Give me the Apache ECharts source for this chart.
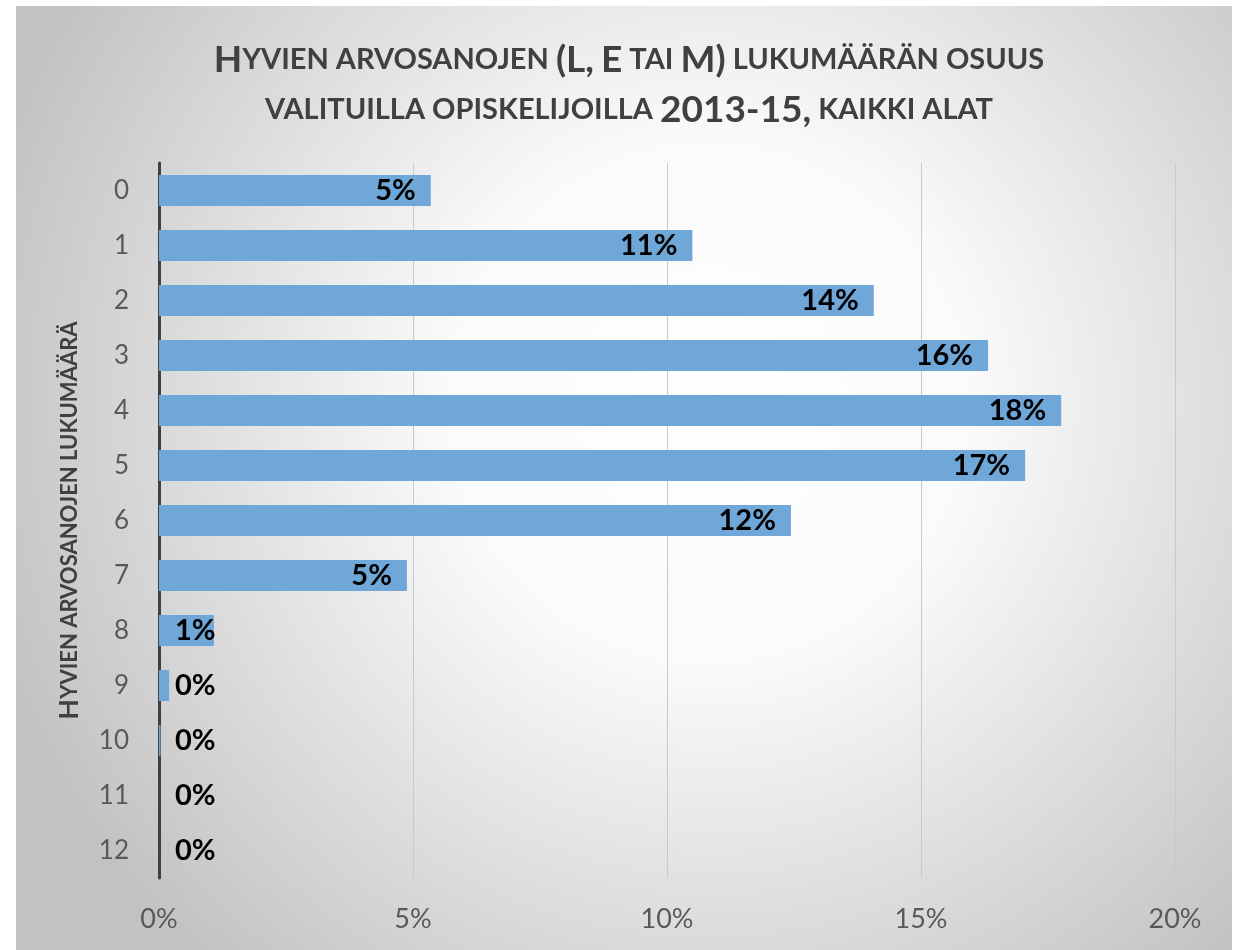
<!DOCTYPE html>
<html>
<head>
<meta charset="utf-8">
<script src="https://cdn.jsdelivr.net/npm/echarts@6/dist/echarts.min.js"></script>
<style>
  html, body { margin: 0; padding: 0; background: #fff; }
  #chart { width: 1243px; height: 950px; }
</style>
</head>
<body>
<div id="chart"></div>
<script>
// data
const categories = ['0', '1', '2', '3', '4', '5', '6', '7', '8', '9', '10', '11', '12'];
const shares = [5.35, 10.5, 14.07, 16.32, 17.76, 17.05, 12.44, 4.88, 1.08, 0.2, 0.03, 0, 0];
const xTicks = [0, 5, 10, 15, 20];

const titleLine1 = 'Hyvien arvosanojen (L, E tai M) lukumäärän osuus';
const titleLine2 = 'valituilla opiskelijoilla 2013-15, kaikki alat';
const yName = 'Hyvien arvosanojen lukumäärä';

// small caps: lowercase letters go to the small style, everything else big
function smallCaps(str) {
  let out = '';
  let cur = null;
  let buf = '';
  for (const ch of str) {
    const isLower = ch !== ch.toUpperCase() || ch === ' ';
    const st = isLower ? 's' : 'b';
    if (st !== cur && buf) {
      out += '{' + cur + '|' + buf + '}';
      buf = '';
    }
    cur = st;
    buf += ch.toUpperCase();
  }
  if (buf) out += '{' + cur + '|' + buf + '}';
  return out;
}

const myChart = echarts.init(document.getElementById('chart'));

const option = {
  animation: false,
  graphic: [{
    type: 'rect',
    z: -10,
    silent: true,
    shape: { x: 16, y: 6, width: 1216, height: 944 },
    style: {
      fill: new echarts.graphic.RadialGradient(0.57, 0.42, 0.8, [
        { offset: 0, color: '#ffffff' },
        { offset: 0.35, color: '#fafafa' },
        { offset: 1, color: '#c2c2c2' }
      ])
    }
  }],
  title: {
    text: smallCaps(titleLine1) + '\n' + smallCaps(titleLine2),
    left: 624,
    top: 30,
    textAlign: 'center',
    textStyle: {
      color: '#404040',
      fontFamily: 'Lato',
      fontWeight: 'bold',
      lineHeight: 50,
      rich: {
        b: { fontSize: 37, fontWeight: 'bold', fontFamily: 'Lato', color: '#404040', lineHeight: 50 },
        s: { fontSize: 29, fontWeight: 'bold', fontFamily: 'Lato', color: '#404040', lineHeight: 50 }
      }
    }
  },
  grid: {
    left: 159,
    right: 68,
    top: 163,
    bottom: 72,
    containLabel: false
  },
  xAxis: {
    type: 'value',
    min: 0,
    max: 20,
    interval: 5,
    axisLine: { show: false },
    axisTick: { show: false },
    splitLine: { lineStyle: { color: '#c9c9c9', width: 1 } },
    axisLabel: {
      color: '#595959',
      fontFamily: 'Lato',
      fontSize: 27,
      margin: 28,
      formatter: v => xTicks.includes(v) ? v + '%' : ''
    }
  },
  yAxis: {
    type: 'category',
    data: categories,
    inverse: true,
    axisLine: { lineStyle: { color: '#404040', width: 3 } },
    axisTick: { show: false },
    axisLabel: {
      color: '#595959',
      fontFamily: 'Lato',
      fontSize: 26,
      margin: 30
    },
    name: smallCaps(yName),
    nameLocation: 'middle',
    nameRotate: 90,
    nameGap: 76,
    nameTextStyle: {
      rich: {
        b: { fontSize: 27, fontWeight: 'bold', fontFamily: 'Lato', color: '#404040' },
        s: { fontSize: 22, fontWeight: 'bold', fontFamily: 'Lato', color: '#404040' }
      }
    }
  },
  series: [{
    type: 'bar',
    barWidth: 31,
    data: shares.map(v => ({
      value: v,
      label: v < 2
        ? { position: 'insideLeft', distance: 16 }
        : { position: 'insideRight', distance: 15 }
    })),
    itemStyle: {
      color: '#6fa7d9'
    },
    label: {
      show: true,
      color: '#000',
      fontFamily: 'Lato',
      fontWeight: 'bold',
      fontSize: 29,
      formatter: p => Math.round(p.value) + '%'
    }
  }]
};

myChart.setOption(option);
</script>
</body>
</html>
